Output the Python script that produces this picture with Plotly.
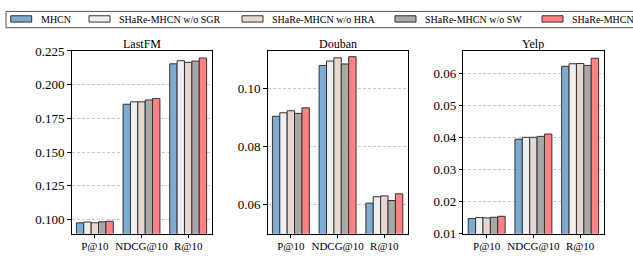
import plotly.graph_objects as go

W, H = 633, 257

# ---------------- data ----------------
metrics = ["P@10", "NDCG@10", "R@10"]
models = ["MHCN", "SHaRe-MHCN w/o SGR", "SHaRe-MHCN w/o HRA", "SHaRe-MHCN w/o SW", "SHaRe-MHCN"]
datasets = ["LastFM", "Douban", "Yelp"]

# rows = models, columns = metrics (P@10, NDCG@10, R@10)
lastfm = [
    [0.0975, 0.1855, 0.2155],
    [0.0981, 0.1873, 0.2178],
    [0.0976, 0.1873, 0.2166],
    [0.0983, 0.1887, 0.2175],
    [0.0987, 0.1897, 0.2198],
]
douban = [
    [0.0904, 0.1079, 0.0605],
    [0.0916, 0.1094, 0.0627],
    [0.0923, 0.1105, 0.0630],
    [0.0914, 0.1084, 0.0614],
    [0.0933, 0.1109, 0.0637],
]
yelp = [
    [0.0147, 0.0394, 0.0621],
    [0.0150, 0.0400, 0.0629],
    [0.0149, 0.0400, 0.0630],
    [0.0151, 0.0403, 0.0624],
    [0.0154, 0.0410, 0.0646],
]
lastfm_ticks = [0.100, 0.125, 0.150, 0.175, 0.200, 0.225]
douban_ticks = [0.06, 0.08, 0.10]
yelp_ticks = [0.01, 0.02, 0.03, 0.04, 0.05, 0.06]

# ---------------- style / layout ----------------
colors = ["#7DABD2", "#EFEFEF", "#E6D8D0", "#A8A8A8", "#FF8181"]
edge = "#333333"
FONT = "Liberation Serif, Times New Roman, Times, serif"

values = [lastfm, douban, yelp]
ticks = [lastfm_ticks, douban_ticks, yelp_ticks]
tickfmt = [".3f", ".2f", ".2f"]
yranges = [[0.0895, 0.2253], [0.0500, 0.1130], [0.0100, 0.0670]]

px_x = [(71.5, 211.5), (267.5, 407.7), (463.3, 603.5)]
y_top, y_bot = 46.3, 240.7
ydom = [1 - y_bot / H, 1 - y_top / H]

fig = go.Figure()
layout = dict(
    width=W, height=H,
    margin=dict(l=0, r=0, t=0, b=0),
    plot_bgcolor="white", paper_bgcolor="white",
    barmode="group", bargap=0.21, bargroupgap=0.0,
    showlegend=False,
    font=dict(family=FONT, color="black"),
)

annotations = []
shapes = []
for i, (name, vals) in enumerate(zip(datasets, values)):
    xa = "x" if i == 0 else f"x{i+1}"
    ya = "y" if i == 0 else f"y{i+1}"
    for m, model in enumerate(models):
        fig.add_trace(go.Bar(
            x=metrics, y=vals[m], name=model,
            marker=dict(color=colors[m], line=dict(color=edge, width=1)),
            xaxis=xa, yaxis=ya, offsetgroup=str(m), showlegend=False,
        ))
    dom = [px_x[i][0] / W, px_x[i][1] / W]
    xkey = "xaxis" if i == 0 else f"xaxis{i+1}"
    ykey = "yaxis" if i == 0 else f"yaxis{i+1}"
    layout[xkey] = dict(
        domain=dom, anchor=ya, showline=True, mirror=True, linecolor="black", linewidth=1,
        ticks="outside", ticklen=3.5, tickwidth=0.8, tickcolor="black",
        tickfont=dict(size=11, family=FONT, color="black"), showgrid=False,
        range=[-0.5, 2.5], ticklabelstandoff=-1,
    )
    layout[ykey] = dict(
        domain=ydom, anchor=xa, showline=True, mirror=True, linecolor="black", linewidth=1,
        ticks="outside", ticklen=3.5, tickwidth=0.8, tickcolor="black",
        tickfont=dict(size=13, family=FONT, color="black"),
        tickvals=ticks[i], tickformat=tickfmt[i], range=yranges[i],
        showgrid=True, gridcolor="#C8C8C8", gridwidth=0.7, griddash="3px,2px",
        zeroline=False,
    )
    annotations.append(dict(
        text=name, x=(dom[0] + dom[1]) / 2, y=1 - 39.3 / H, xref="paper", yref="paper",
        xanchor="center", yanchor="middle", showarrow=False,
        font=dict(size=12, family=FONT, color="black"),
    ))

# ---------------- legend (drawn in paper space) ----------------
leg_patch_x = [10.7, 89.0, 242.0, 395.0, 542.0]
patch_w, patch_y0, patch_y1 = 21.0, 9.3, 16.0
shapes.append(dict(type="rect", xref="paper", yref="paper",
                   x0=6 / W, x1=645 / W, y0=1 - 22 / H, y1=1 - 4.7 / H,
                   line=dict(color="#555555", width=1), fillcolor="white", layer="above"))
for m, model in enumerate(models):
    x0 = leg_patch_x[m]
    shapes.append(dict(type="rect", xref="paper", yref="paper",
                       x0=x0 / W, x1=(x0 + patch_w) / W,
                       y0=1 - patch_y1 / H, y1=1 - patch_y0 / H,
                       line=dict(color=edge, width=1), fillcolor=colors[m], layer="above"))
    annotations.append(dict(
        text=model, x=(x0 + patch_w + 8) / W, y=1 - 13.0 / H, xref="paper", yref="paper",
        xanchor="left", yanchor="middle", showarrow=False, xshift=-1,
        font=dict(size=10, family=FONT, color="black"),
    ))

layout["annotations"] = annotations
layout["shapes"] = shapes
fig.update_layout(**layout)
fig.write_html("out.html",
               config={"displayModeBar": False},
               post_script="document.body.style.margin='0';document.body.style.overflow='hidden';")
